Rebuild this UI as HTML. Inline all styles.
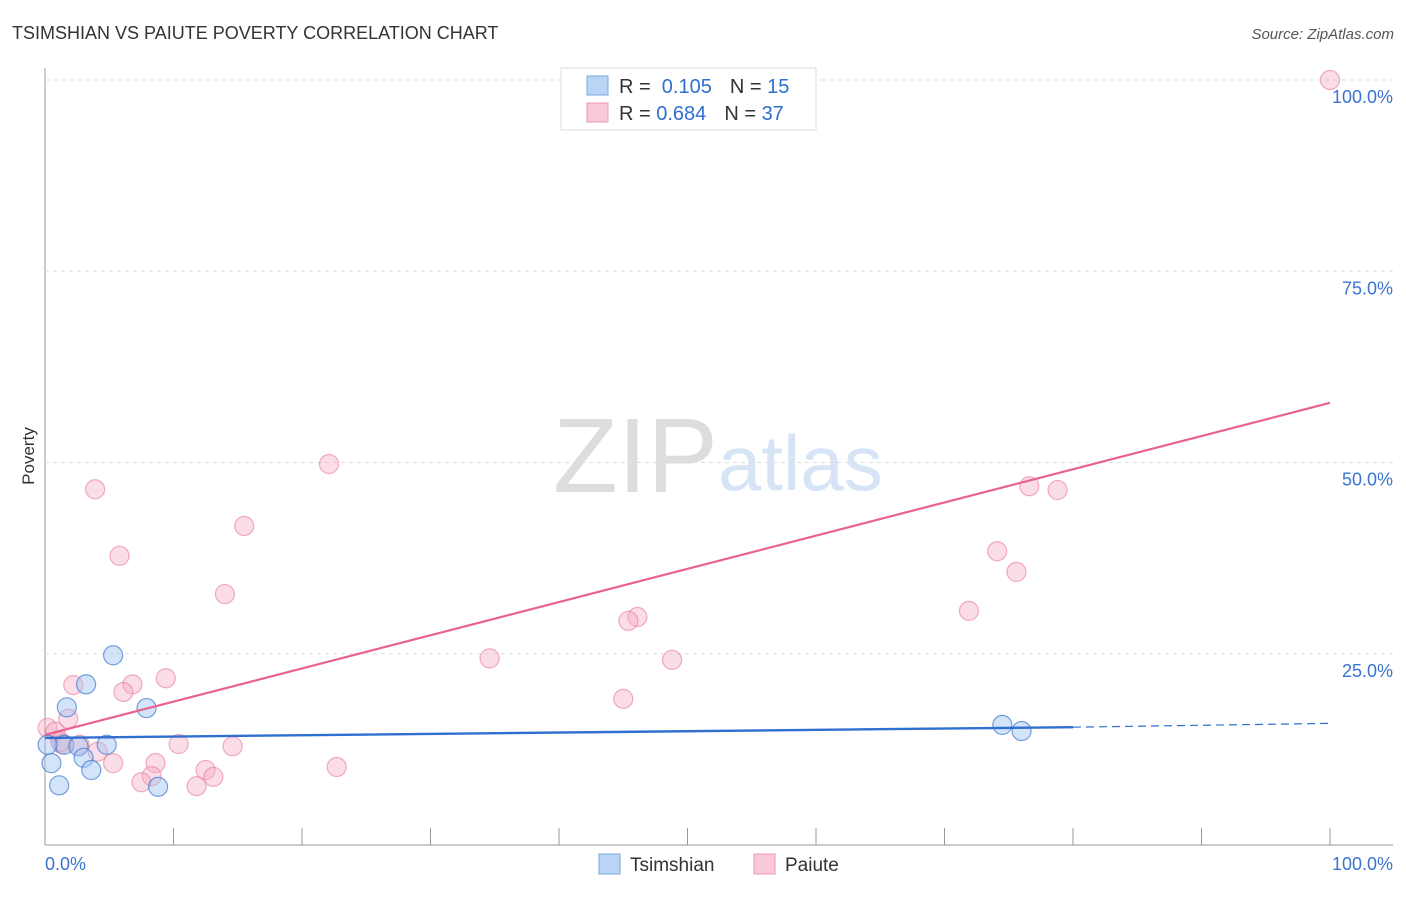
<!DOCTYPE html>
<html><head><meta charset="utf-8"><style>
body{margin:0;background:#fff;font-family:"Liberation Sans",sans-serif}
svg text{font-family:"Liberation Sans",sans-serif}
</style></head><body>
<svg id="c" width="1406" height="892">
<text x="12" y="39" font-size="18" fill="#333">TSIMSHIAN VS PAIUTE POVERTY CORRELATION CHART</text>
<text x="1394" y="39" font-size="15" fill="#555" font-style="italic" text-anchor="end">Source: ZipAtlas.com</text>
<text x="553" y="492" font-size="106" fill="#ddd" font-family="Liberation Serif">ZIP</text>
<text x="718" y="490" font-size="78" fill="#d6e4f5">atlas</text>
<text transform="translate(34,456) rotate(-90)" font-size="17" fill="#333" text-anchor="middle">Poverty</text>
<g id="grid"></g><g id="marks"></g>
<g>
<rect x="561" y="68" width="255" height="62" fill="#fff" stroke="#ddd"/>
<rect x="587" y="76" width="21" height="19" fill="#b9d4f5" stroke="#7aa7e0"/>
<rect x="587" y="103" width="21" height="19" fill="#f9c9d8" stroke="#ec98b3"/>
<text x="619" y="93" font-size="20" fill="#333">R = <tspan fill="#2f6fd0">&#160;0.105</tspan><tspan dx="18">N = </tspan><tspan fill="#2f6fd0"> 15</tspan></text>
<text x="619" y="120" font-size="20" fill="#333">R = <tspan fill="#2f6fd0">0.684</tspan><tspan dx="18">N = </tspan><tspan fill="#2f6fd0"> 37</tspan></text>
</g>
<g>
<rect x="599" y="854" width="21" height="20" fill="#b9d4f5" stroke="#7aa7e0"/>
<text x="630" y="871" font-size="19" fill="#333">Tsimshian</text>
<rect x="754" y="854" width="21" height="20" fill="#f9c9d8" stroke="#ec98b3"/>
<text x="785" y="871" font-size="19" fill="#333">Paiute</text>
</g>
</svg>
<script>
const yTicks=[25,50,75,100];
const yTickLabels=["25.0%","50.0%","75.0%","100.0%"];
const xTickLabels=["0.0%","100.0%"];
const blueX=[5.3,3.2,1.7,7.9,1.5,2.6,4.8,3.0,0.5,3.6,1.1,8.8,0.2,74.5,76.0];
const blueY=[24.8,21.0,18.0,17.9,13.1,12.9,13.1,11.4,10.7,9.8,7.8,7.6,13.1,15.7,14.9];
const pinkX=[100,22.1,3.9,15.5,5.8,14.0,76.6,78.8,74.1,75.6,71.9,46.1,45.4,34.6,48.8,45.0,9.4,2.2,6.8,6.1,1.8,0.2,0.8,1.3,2.7,4.1,5.3,8.6,10.4,14.6,22.7,8.3,12.5,13.1,7.5,11.8,1.2];
const pinkY=[100,49.8,46.5,41.7,37.8,32.8,46.9,46.4,38.4,35.7,30.6,29.8,29.3,24.4,24.2,19.1,21.8,20.9,21.0,20.0,16.5,15.3,14.8,13.2,13.1,12.2,10.7,10.7,13.2,12.9,10.2,9.0,9.8,8.9,8.2,7.7,13.5];
const blueTrend=[14.0,15.4,15.9];
const pinkTrend=[14.4,57.8];
const NS='http://www.w3.org/2000/svg';
const sx=v=>45+v*12.85, sy=v=>845-v*7.65;
const svg=document.getElementById('c'),grid=document.getElementById('grid'),marks=document.getElementById('marks');
function mk(tag,at,parent){const e=document.createElementNS(NS,tag);for(const k in at)e.setAttribute(k,at[k]);parent.appendChild(e);return e;}
let a=mk('line',{x1:45,y1:68,x2:45,y2:845,stroke:'#999'},grid);


a=mk('line',{x1:45,y1:845,x2:1393,y2:845,stroke:'#999'},grid);


for(let i=1;i<=10;i++){const t=mk('line',{x1:sx(i*10),y1:828,x2:sx(i*10),y2:845,stroke:'#999'},grid);

}
yTicks.forEach((v,i)=>{const g=mk('line',{x1:45,y1:sy(v),x2:1393,y2:sy(v),stroke:'#ddd','stroke-dasharray':'4,4'},grid);


const t=mk('text',{x:1393,y:sy(v)+23,'font-size':18,fill:'#3a74d0','text-anchor':'end'},grid);t.textContent=yTickLabels[i];

});
[[0,'start',45],[1,'end',1393]].forEach(([i,an,x])=>{const t=mk('text',{x:x,y:870,'font-size':18,fill:'#3a74d0','text-anchor':an},grid);t.textContent=xTickLabels[i];

});
pinkX.forEach((x,i)=>{const c=mk('circle',{cx:sx(x),cy:sy(pinkY[i]),r:9.5,fill:'rgba(246,170,195,0.4)',stroke:'rgba(232,120,155,0.6)','stroke-width':1.2},marks);

});
blueX.forEach((x,i)=>{const c=mk('circle',{cx:sx(x),cy:sy(blueY[i]),r:9.5,fill:'rgba(160,195,240,0.45)',stroke:'rgba(60,120,210,0.7)','stroke-width':1.2},marks);

});
let l=mk('line',{x1:sx(0),y1:sy(pinkTrend[0]),x2:sx(100),y2:sy(pinkTrend[1]),stroke:'#e8628f','stroke-width':2.2},marks);


l=mk('line',{x1:sx(0),y1:sy(blueTrend[0]),x2:sx(80),y2:sy(blueTrend[1]),stroke:'#2f6fd0','stroke-width':2.4},marks);


l=mk('line',{x1:sx(80),y1:sy(blueTrend[1]),x2:sx(100),y2:sy(blueTrend[2]),stroke:'#2f6fd0','stroke-width':1.2,'stroke-dasharray':'8,5'},marks);


</script>
</body></html>
